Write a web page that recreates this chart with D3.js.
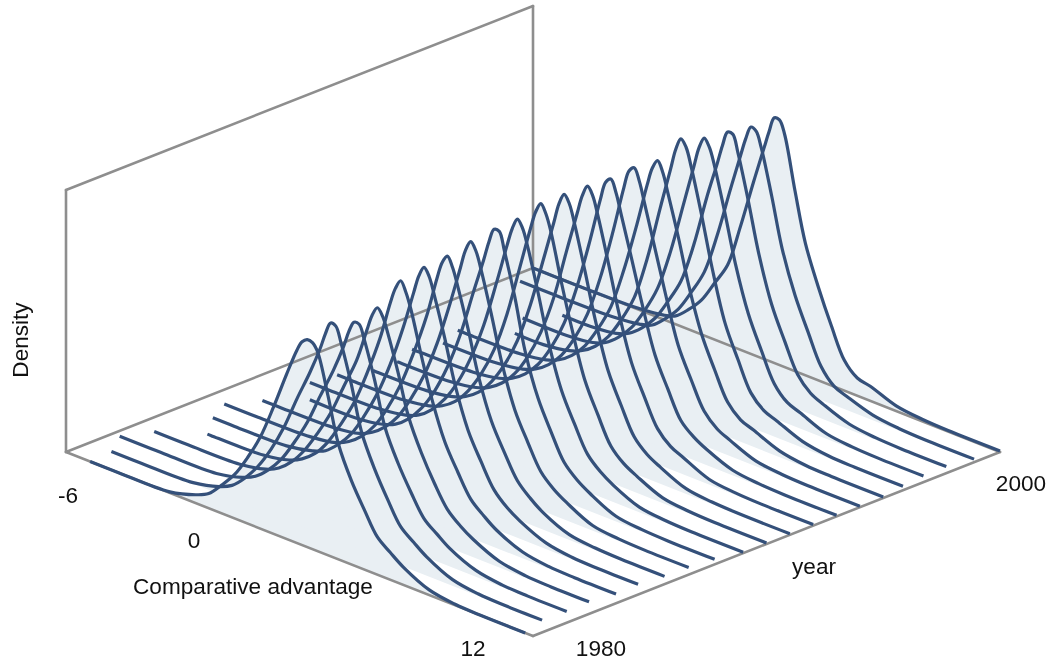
<!DOCTYPE html>
<html><head><meta charset="utf-8">
<script src="https://cdn.jsdelivr.net/npm/d3@7"></script>
<style>html,body{margin:0;padding:0;background:#fff}svg{display:block;filter:blur(0.4px)}text{font-family:"Liberation Sans",Arial,sans-serif;fill:#111}</style>
</head><body><svg id="c" width="1053" height="665"></svg>
<script>
const years = d3.range(1980, 2001);
const grid = [-6,-4,-2,-1,-.5,0,.5,1,1.5,2,2.5,2.9,3.1,3.3,3.5,3.7,4.1,4.5,5,5.5,6,6.5,7,8,9,10,12];
// first and last observed comparative-advantage value of each year
const lowEnd  = [-5.07,-5.15,-5.73,-5.3,-4.15,-4.84,-5.3,-4.73,-3.8,-4.7,-4.55,-4.07,-4.04,-4.36,-4.07,-4.4,-3.1,-3.7,-3.07,-5.6,-6];
const highEnd = [11.7,11.45,11.5,11.46,11.6,11.55,11.67,11.7,11.8,12,12,12,12,12,12,12,11.86,11.75,11.73,11.9,12];
// density x 1000 on the grid, one row per year
const d1980=[0,0,1,8,14,27,42,63,88,121,157,184,194,198,197,190,152,110,80,57,36,26,17,5,1,0,0];
const d1981=[0,0,1,7,13,25,41,62,88,120,150,177,193,205,204,190,154,112,82,58,37,27,18,6,2,1,0];
const d1982=[0,0,1,7,13,24,39,60,84,114,143,170,186,197,197,184,149,108,79,56,36,26,17,6,2,1,0];
const d1983=[0,0,1,6,12,23,39,60,84,114,144,177,193,202,196,182,148,110,80,56,36,25,17,6,2,1,0];
const d1984=[0,0,1,6,12,22,38,60,85,118,156,194,210,219,210,195,155,118,82,58,37,26,17,6,2,1,0];
const d1985=[0,0,1,6,11,22,37,59,85,118,158,195,213,223,216,200,163,122,84,59,37,25,17,6,2,1,0];
const d1986=[0,0,1,5,11,21,36,58,85,120,160,200,217,225,216,200,163,122,84,59,37,25,16,5,2,1,0];
const d1987=[0,0,1,5,11,21,36,58,85,120,163,201,220,230,223,207,168,126,86,60,37,25,17,5,2,1,0];
const d1988=[0,0,1,5,10,20,35,56,84,120,165,200,219,233,233,216,176,128,88,61,37,25,17,5,2,1,0];
const d1989=[0,0,1,5,10,20,35,56,84,120,166,205,223,234,227,211,171,128,87,60,36,24,16,5,2,1,0];
const d1990=[0,0,1,5,10,19,34,55,83,122,172,212,230,240,232,216,172,132,88,60,35,23,16,5,2,1,0];
const d1991=[0,0,1,5,10,19,34,55,83,122,170,209,229,240,233,216,175,132,88,60,35,23,16,5,2,1,0];
const d1992=[0,0,1,5,10,19,33,54,82,120,170,209,228,239,232,215,174,131,87,59,34,22,16,5,2,1,0];
const d1993=[0,0,1,5,10,19,33,54,82,122,171,214,232,237,226,207,169,130,86,58,33,22,15,5,2,1,0];
const d1994=[0,0,1,5,10,19,33,54,82,122,172,216,234,239,228,209,170,131,86,58,33,21,15,5,2,1,0];
const d1995=[0,0,1,5,10,19,33,54,80,120,168,210,228,237,228,210,172,130,88,59,33,21,16,6,2,1,0];
const d1996=[0,0,1,5,10,19,33,54,80,122,175,216,237,249,243,226,184,138,90,60,33,21,16,6,2,1,0];
const d1997=[0,0,1,4,9,19,33,54,80,120,170,210,230,241,234,218,177,133,90,60,33,20,15,5,2,1,0];
const d1998=[0,0,1,4,9,19,33,54,78,118,168,204,223,238,238,222,180,134,90,60,33,20,14,5,2,1,0];
const d1999=[0,0,1,4,8,19,33,54,78,118,166,203,221,234,232,218,176,130,90,60,32,18,13,5,2,1,0];
const d2000=[0,0,1,4,8,19,33,54,76,118,165,201,219,234,234,222,172,126,89,57,29,17,14,5,2,1,0];
const rows=[d1980,d1981,d1982,d1983,d1984,d1985,d1986,d1987,d1988,d1989,d1990,d1991,d1992,d1993,d1994,d1995,d1996,d1997,d1998,d1999,d2000];
const xTicks=["-6","0","12"], yTicks=["1980","2000"];

const W=467, D=184, H=262, ox=66, oy=452;
const xf=d3.scaleLinear().domain([-6,12]).range([0,1]);
const yf=d3.scaleLinear().domain([1980,2000]).range([0,1]);
const zs=d3.scaleLinear().domain([0,250]).range([0,H]);
const P=(x,y,z)=>[ox+W*xf(x)+W*yf(y), oy+D*xf(x)-D*yf(y)-zs(z)];

const svg=d3.select("#c");
const series=years.map((y,i)=>{
  const pts=[];
  const inner=grid.map((g,j)=>[g,rows[i][j]]).filter(p=>p[0]>lowEnd[i]&&p[0]<highEnd[i]);
  pts.push([lowEnd[i],inner[0][1]],...inner,[highEnd[i],inner[inner.length-1][1]]);
  return {y,pts};
});
const line=d3.line().x(d=>d[0]).y(d=>d[1]).curve(d3.curveCatmullRom.alpha(0.5));

svg.append("g").selectAll("path").data(series).join("path")
 .attr("fill","#e9eff3").attr("stroke","none")
 .attr("d",s=>{
   const top=line(s.pts.map(p=>P(p[0],s.y,p[1])));
   const a=P(s.pts[s.pts.length-1][0],s.y,0), b=P(s.pts[0][0],s.y,0);
   return top+`L${a[0]},${a[1]}L${b[0]},${b[1]}Z`;
 });

const frame=[
 [[-6,1980,0],[-6,2000,0]],[[-6,2000,0],[12,2000,0]],[[-6,1980,0],[12,1980,0]],[[12,1980,0],[12,2000,0]],
 [[-6,1980,0],[-6,1980,250]],[[-6,1980,250],[-6,2000,250]],[[-6,2000,250],[-6,2000,0]]
];
svg.append("g").selectAll("line").data(frame).join("line")
 .attr("x1",d=>P(...d[0])[0]).attr("y1",d=>P(...d[0])[1])
 .attr("x2",d=>P(...d[1])[0]).attr("y2",d=>P(...d[1])[1])
 .attr("stroke","#8e8e8e").attr("stroke-width",2.6).attr("stroke-linecap","round");

svg.append("g").selectAll("path").data(series).join("path")
 .attr("fill","none").attr("stroke","#34507a").attr("stroke-width",3.2)
 .attr("d",s=>line(s.pts.map(p=>P(p[0],s.y,p[1]))));

const fs=22.6;
const label=(t,x,y,rot)=>{const e=svg.append("text").text(t).attr("font-size",fs).attr("text-anchor","middle");
  if(rot) e.attr("transform",`translate(${x},${y}) rotate(-90)`); else e.attr("x",x).attr("y",y);};
label(xTicks[0],68,503);label(xTicks[1],194,548);label(xTicks[2],473,656);
label(yTicks[0],601,656);label(yTicks[1],1021,491);
label("Comparative advantage",253,594);label("year",814,574);label("Density",28,340,true);
</script></body></html>
